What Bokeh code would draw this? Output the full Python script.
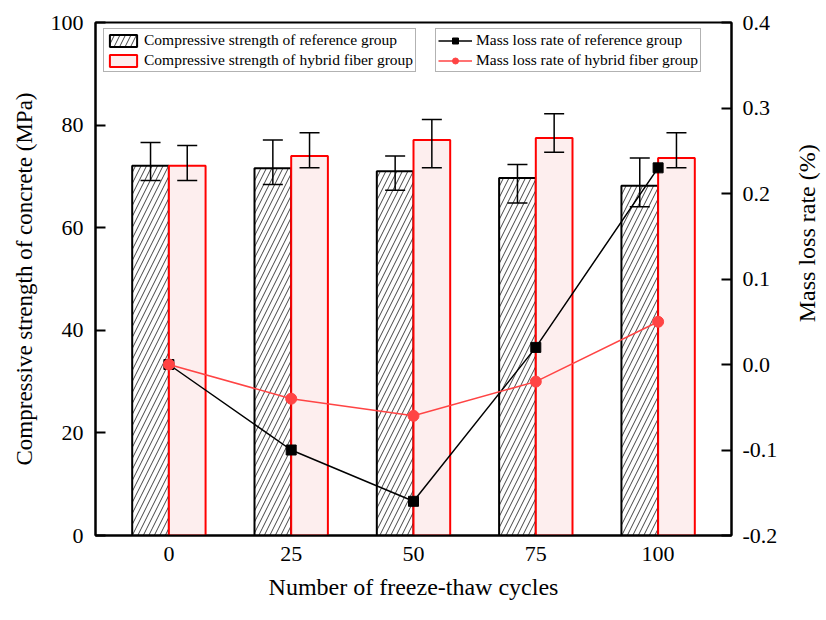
import math
from bokeh.plotting import figure
from bokeh.layouts import row
from bokeh.models import (Range1d, LinearAxis, FixedTicker, PrintfTickFormatter, Whisker,
                          ColumnDataSource, Legend, LegendItem, TeeHead)
from bokeh.core.properties import value
from bokeh.transform import dodge
from bokeh.embed import file_html
from bokeh.resources import INLINE

# ---- data ----
cycles = [0, 25, 50, 75, 100]
x_tick_labels = ["0", "25", "50", "75", "100"]
ref_strength = [72.1, 71.6, 71.0, 69.7, 68.2]
ref_err_upper = [76.6, 77.1, 74.0, 72.3, 73.6]
ref_err_lower = [69.2, 68.4, 67.3, 64.8, 64.1]
hyb_strength = [72.1, 74.0, 77.1, 77.5, 73.6]
hyb_err_upper = [76.0, 78.5, 81.1, 82.2, 78.5]
hyb_err_lower = [69.2, 71.7, 71.7, 74.7, 71.7]
ref_mass = [0.0, -0.10, -0.16, 0.02, 0.23]
hyb_mass = [0.0, -0.04, -0.06, -0.02, 0.05]
left_ticks = [0, 20, 40, 60, 80, 100]
right_ticks = [-0.2, -0.1, 0.0, 0.1, 0.2, 0.3, 0.4]
right_axis_label = "Mass loss rate (%)"

FONT = "'Liberation Serif', 'Times New Roman', serif"
BW = 7.5
TOP, FH, BOTTOM = 22, 513, 76
TOTAL_H = TOP + FH + BOTTOM

p = figure(frame_width=636, frame_height=FH, x_range=Range1d(-15, 115), y_range=Range1d(0, 100),
           output_backend="svg", toolbar_location=None,
           min_border_left=95, min_border_right=60, min_border_top=TOP, min_border_bottom=BOTTOM)
p.extra_y_ranges = {"mass": Range1d(-0.2, 0.4)}
p.grid.visible = False
p.outline_line_color = "black"
p.outline_line_width = 2
p.background_fill_color = "white"
p.border_fill_color = "white"

src = ColumnDataSource(dict(x=cycles, ref=ref_strength, ref_up=ref_err_upper, ref_lo=ref_err_lower,
                            hyb=hyb_strength, hyb_up=hyb_err_upper, hyb_lo=hyb_err_lower,
                            ref_mass=ref_mass, hyb_mass=hyb_mass))

ref_bar = p.vbar(x=dodge('x', -BW / 2), top='ref', bottom=0, width=BW, source=src,
                 fill_color="white", line_color="black", line_width=2,
                 hatch_pattern="/", hatch_color="#444444", hatch_scale=11, hatch_weight=1)
hyb_bar = p.vbar(x=dodge('x', BW / 2), top='hyb', bottom=0, width=BW, source=src,
                 fill_color="#fdeeee", line_color="#ff0000", line_width=2)

for xoff, up, lo in [(-BW / 2, 'ref_up', 'ref_lo'), (BW / 2, 'hyb_up', 'hyb_lo')]:
    w = Whisker(source=src, base=dodge('x', xoff), upper=up, lower=lo,
                line_color="black", line_width=1.5, level="glyph",
                upper_head=TeeHead(size=20, line_color="black", line_width=1.5),
                lower_head=TeeHead(size=20, line_color="black", line_width=1.5))
    p.add_layout(w)

ref_line = p.line('x', 'ref_mass', source=src, y_range_name="mass", line_color="black", line_width=1.5)
ref_pts = p.scatter('x', 'ref_mass', source=src, y_range_name="mass", marker="square", size=10,
                    fill_color="black", line_color="black")
hyb_line = p.line('x', 'hyb_mass', source=src, y_range_name="mass", line_color="#ff4444", line_width=1.5)
hyb_pts = p.scatter('x', 'hyb_mass', source=src, y_range_name="mass", marker="circle", size=11,
                    fill_color="#ff4444", line_color="#ff4444")

# axes
def style_axis(ax):
    ax.axis_line_width = 2
    ax.axis_line_color = "black"
    ax.major_tick_line_width = 2
    ax.major_tick_in = 10
    ax.major_tick_out = 0
    ax.minor_tick_line_color = None
    ax.major_label_text_font = FONT
    ax.major_label_text_font_size = "22px"
    ax.major_label_text_color = "black"
    ax.axis_label_text_font = FONT
    ax.axis_label_text_font_size = "23px"
    ax.axis_label_text_font_style = "normal"
    ax.axis_label_text_color = "black"

yl = p.yaxis[0]
style_axis(yl)
yl.ticker = FixedTicker(ticks=left_ticks)
yl.axis_label = "Compressive strength of concrete (MPa)"
yl.major_label_standoff = 12
yl.axis_label_standoff = 11

xa = p.xaxis[0]
style_axis(xa)
xa.ticker = FixedTicker(ticks=cycles)
xa.major_label_overrides = {c: t for c, t in zip(cycles, x_tick_labels)}
xa.major_tick_in = 0
xa.axis_label = "Number of freeze-thaw cycles"
xa.axis_label_text_font_size = "24px"
xa.major_label_standoff = 11
xa.axis_label_standoff = 10

yr = LinearAxis(y_range_name="mass",
                ticker=FixedTicker(ticks=right_ticks), formatter=PrintfTickFormatter(format="%.1f"))
style_axis(yr)
yr.major_label_standoff = 11
p.add_layout(yr, "right")

def make_legend(items, loc):
    lg = Legend(items=items, location=loc, orientation="vertical")
    lg.label_text_font = FONT
    lg.label_text_font_size = "15.5px"
    lg.label_text_color = "black"
    lg.glyph_width = 34
    lg.glyph_height = 15
    lg.label_height = 18
    lg.label_standoff = 4
    lg.spacing = 2
    lg.padding = 2
    lg.margin = 0
    lg.border_line_color = "#666666"
    lg.border_line_width = 1
    lg.background_fill_color = "white"
    lg.background_fill_alpha = 1
    return lg

leg1 = make_legend([LegendItem(label="Compressive strength of reference group", renderers=[ref_bar]),
                    LegendItem(label="Compressive strength of hybrid fiber group", renderers=[hyb_bar])],
                   (8, 463))
leg2 = make_legend([LegendItem(label="Mass loss rate of reference group", renderers=[ref_line, ref_pts]),
                    LegendItem(label="Mass loss rate of hybrid fiber group", renderers=[hyb_line, hyb_pts])],
                   (340, 463))
p.add_layout(leg1)
p.add_layout(leg2)

# narrow strip holding the right axis title (reads bottom-to-top, like the left one)
p2 = figure(width=30, height=TOTAL_H, x_range=Range1d(0, 1), y_range=Range1d(0, TOTAL_H),
            output_backend="svg", toolbar_location=None, x_axis_type=None, y_axis_type=None,
            min_border=0)
p2.grid.visible = False
p2.outline_line_color = None
p2.background_fill_color = "white"
p2.border_fill_color = "white"
p2.text(x=[0.5], y=[TOTAL_H - 251], text=[right_axis_label], angle=math.pi / 2,
        text_align="center", text_baseline="middle", text_font=value(FONT),
        text_font_size="24px", text_color="black")

layout = row(p, p2, spacing=0)
open("out.html", "w").write(file_html(layout, INLINE))
